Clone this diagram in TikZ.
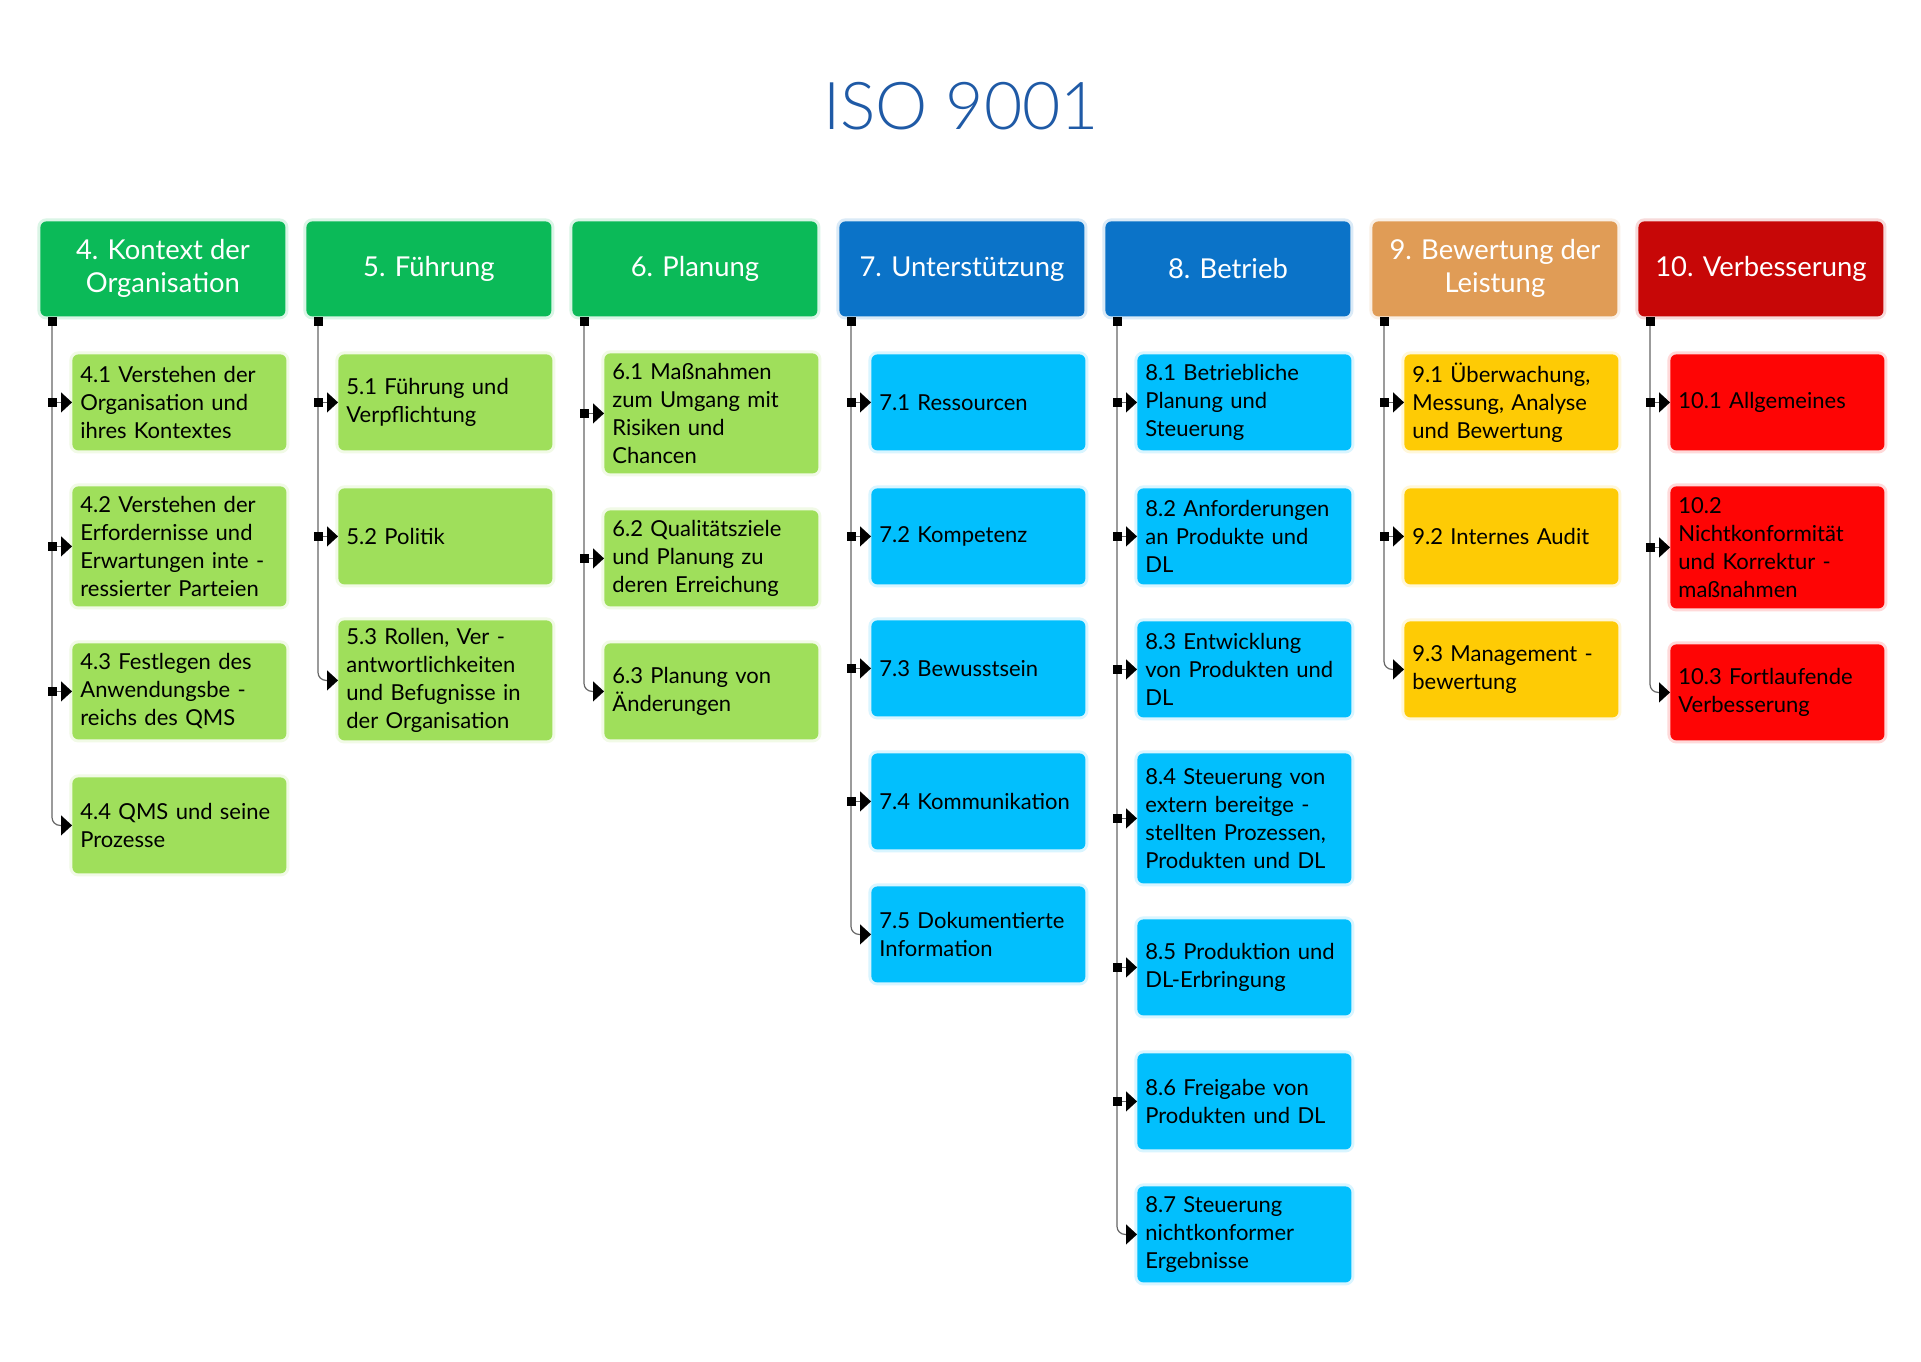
\documentclass[tikz,border=0pt]{standalone}
\usepackage{fontspec}
\setmainfont{Lato}
\newfontfamily\titlefont{Lato Light}
\usetikzlibrary{arrows.meta}
\definecolor{titleblue}{HTML}{1F5AA6}
\definecolor{hgreen}{HTML}{0BBA58}
\definecolor{sgreen}{HTML}{9FDF5B}
\definecolor{hblue}{HTML}{0B73C8}
\definecolor{scyan}{HTML}{02BFFD}
\definecolor{horange}{HTML}{E09C56}
\definecolor{syellow}{HTML}{FECB05}
\definecolor{hred}{HTML}{C70707}
\definecolor{sred}{HTML}{FE0505}
\definecolor{linegray}{HTML}{666666}
\begin{document}
\begin{tikzpicture}[x=0.5pt,y=-0.5pt,
	hdr/.style={fill=#1,preaction={draw=#1!15,line width=3pt},rounded corners=3pt,anchor=north west,
		minimum width=122.5pt,minimum height=47.5pt,inner sep=2pt,text=white,align=center,
		font=\fontsize{13.7}{16.5}\selectfont},
	sub/.style={fill=#1,preaction={draw=#1!15,line width=3pt},rounded corners=3pt,anchor=north west,
		minimum width=107pt,minimum height=48pt,text width=99pt,inner xsep=4pt,inner ysep=2pt,align=left,
		font=\fontsize{11}{14}\selectfont},
	branch/.style={draw=linegray,line width=0.6pt,
		arrows={Rectangle[length=4.5pt,width=4.5pt,color=black]-Triangle[length=5.5pt,width=10pt,color=black]}},
	trunk/.style={branch,rounded corners=4pt}]
	\path[fill=white] (0,0) rectangle (1921,1361);
	\useasboundingbox (0,0) rectangle (1921,1361);
	\node [anchor=base,text=titleblue,font=\titlefont\fontsize{33}{38}\selectfont] at (961,129) (title) {ISO 9001};
	% headers
	\node [hdr=hgreen] at (40,221) (h4) {4. Kontext der\\Organisation};
	\node [hdr=hgreen] at (306,221) (h5) {5. Führung};
	\node [hdr=hgreen] at (572,221) (h6) {6. Planung};
	\node [hdr=hblue] at (839,221) (h7) {7. Unterstützung};
	\node [hdr=hblue] at (1105,221) (h8) {8. Betrieb};
	\node [hdr=horange] at (1372,221) (h9) {9. Bewertung der\\Leistung};
	\node [hdr=hred] at (1638,221) (h10) {10. Verbesserung};
	% 4
	\node [sub=sgreen] at (72,354) (c41) {4.1 Verstehen der\\Organisation und\\ihres Kontextes};
	\node [sub=sgreen,minimum height=60pt] at (72,486) (c42) {4.2 Verstehen der\\Erfordernisse und\\Erwartungen inte -\\ressierter Parteien};
	\node [sub=sgreen] at (72,643) (c43) {4.3 Festlegen des\\Anwendungsbe -\\reichs des QMS};
	\node [sub=sgreen] at (72,777) (c44) {4.4 QMS und seine\\Prozesse};
	% 5
	\node [sub=sgreen] at (338,354) (c51) {5.1 Führung und\\Verpflichtung};
	\node [sub=sgreen] at (338,488) (c52) {5.2 Politik};
	\node [sub=sgreen,minimum height=60pt] at (338,620) (c53) {5.3 Rollen, Ver -\\antwortlichkeiten\\und Befugnisse in\\der Organisation};
	% 6
	\node [sub=sgreen,minimum height=60pt] at (604,353) (c61) {6.1 Maßnahmen\\zum Umgang mit\\Risiken und\\Chancen};
	\node [sub=sgreen] at (604,510) (c62) {6.2 Qualitätsziele\\und Planung zu\\deren Erreichung};
	\node [sub=sgreen] at (604,643) (c63) {6.3 Planung von\\Änderungen};
	% 7
	\node [sub=scyan] at (871,354) (c71) {7.1 Ressourcen};
	\node [sub=scyan] at (871,488) (c72) {7.2 Kompetenz};
	\node [sub=scyan] at (871,620) (c73) {7.3 Bewusstsein};
	\node [sub=scyan] at (871,753) (c74) {7.4 Kommunikation};
	\node [sub=scyan] at (871,886) (c75) {7.5 Dokumentierte\\Information};
	% 8
	\node [sub=scyan] at (1137,354) (c81) {8.1 Betriebliche\\Planung und\\Steuerung};
	\node [sub=scyan] at (1137,488) (c82) {8.2 Anforderungen\\an Produkte und\\DL};
	\node [sub=scyan] at (1137,621) (c83) {8.3 Entwicklung\\von Produkten und\\DL};
	\node [sub=scyan,minimum height=65pt] at (1137,753) (c84) {8.4 Steuerung von\\extern bereitge -\\stellten Prozessen,\\Produkten und DL};
	\node [sub=scyan] at (1137,919) (c85) {8.5 Produktion und\\DL-Erbringung};
	\node [sub=scyan] at (1137,1053) (c86) {8.6 Freigabe von\\Produkten und DL};
	\node [sub=scyan] at (1137,1186) (c87) {8.7 Steuerung\\nichtkonformer\\Ergebnisse};
	% 9
	\node [sub=syellow] at (1404,354) (c91) {9.1 Überwachung,\\Messung, Analyse\\und Bewertung};
	\node [sub=syellow] at (1404,488) (c92) {9.2 Internes Audit};
	\node [sub=syellow] at (1404,621) (c93) {9.3 Management -\\bewertung};
	% 10
	\node [sub=sred] at (1670,354) (c101) {10.1 Allgemeines};
	\node [sub=sred,minimum height=61pt] at (1670,486) (c102) {10.2\\Nichtkonformität\\und Korrektur -\\maßnahmen};
	\node [sub=sred] at (1670,644) (c103) {10.3 Fortlaufende\\Verbesserung};
	% trunk lines
	\coordinate (t4) at ([xshift=6pt]h4.south west);
	\coordinate (s4) at ([xshift=3.75pt]h4.south west);
	\coordinate (t5) at ([xshift=6pt]h5.south west);
	\coordinate (s5) at ([xshift=3.75pt]h5.south west);
	\coordinate (t6) at ([xshift=6pt]h6.south west);
	\coordinate (s6) at ([xshift=3.75pt]h6.south west);
	\coordinate (t7) at ([xshift=6pt]h7.south west);
	\coordinate (s7) at ([xshift=3.75pt]h7.south west);
	\coordinate (t8) at ([xshift=6pt]h8.south west);
	\coordinate (s8) at ([xshift=3.75pt]h8.south west);
	\coordinate (t9) at ([xshift=6pt]h9.south west);
	\coordinate (s9) at ([xshift=3.75pt]h9.south west);
	\coordinate (t10) at ([xshift=6pt]h10.south west);
	\coordinate (s10) at ([xshift=3.75pt]h10.south west);
	\draw [trunk] (t4) |- (c44.west);
	\draw [branch] (s4 |- c41.west) -- (c41.west);
	\draw [branch] (s4 |- c42.west) -- (c42.west);
	\draw [branch] (s4 |- c43.west) -- (c43.west);
	\draw [trunk] (t5) |- (c53.west);
	\draw [branch] (s5 |- c51.west) -- (c51.west);
	\draw [branch] (s5 |- c52.west) -- (c52.west);
	\draw [trunk] (t6) |- (c63.west);
	\draw [branch] (s6 |- c61.west) -- (c61.west);
	\draw [branch] (s6 |- c62.west) -- (c62.west);
	\draw [trunk] (t7) |- (c75.west);
	\draw [branch] (s7 |- c71.west) -- (c71.west);
	\draw [branch] (s7 |- c72.west) -- (c72.west);
	\draw [branch] (s7 |- c73.west) -- (c73.west);
	\draw [branch] (s7 |- c74.west) -- (c74.west);
	\draw [trunk] (t8) |- (c87.west);
	\draw [branch] (s8 |- c81.west) -- (c81.west);
	\draw [branch] (s8 |- c82.west) -- (c82.west);
	\draw [branch] (s8 |- c83.west) -- (c83.west);
	\draw [branch] (s8 |- c84.west) -- (c84.west);
	\draw [branch] (s8 |- c85.west) -- (c85.west);
	\draw [branch] (s8 |- c86.west) -- (c86.west);
	\draw [trunk] (t9) |- (c93.west);
	\draw [branch] (s9 |- c91.west) -- (c91.west);
	\draw [branch] (s9 |- c92.west) -- (c92.west);
	\draw [trunk] (t10) |- (c103.west);
	\draw [branch] (s10 |- c101.west) -- (c101.west);
	\draw [branch] (s10 |- c102.west) -- (c102.west);
\end{tikzpicture}
\end{document}
